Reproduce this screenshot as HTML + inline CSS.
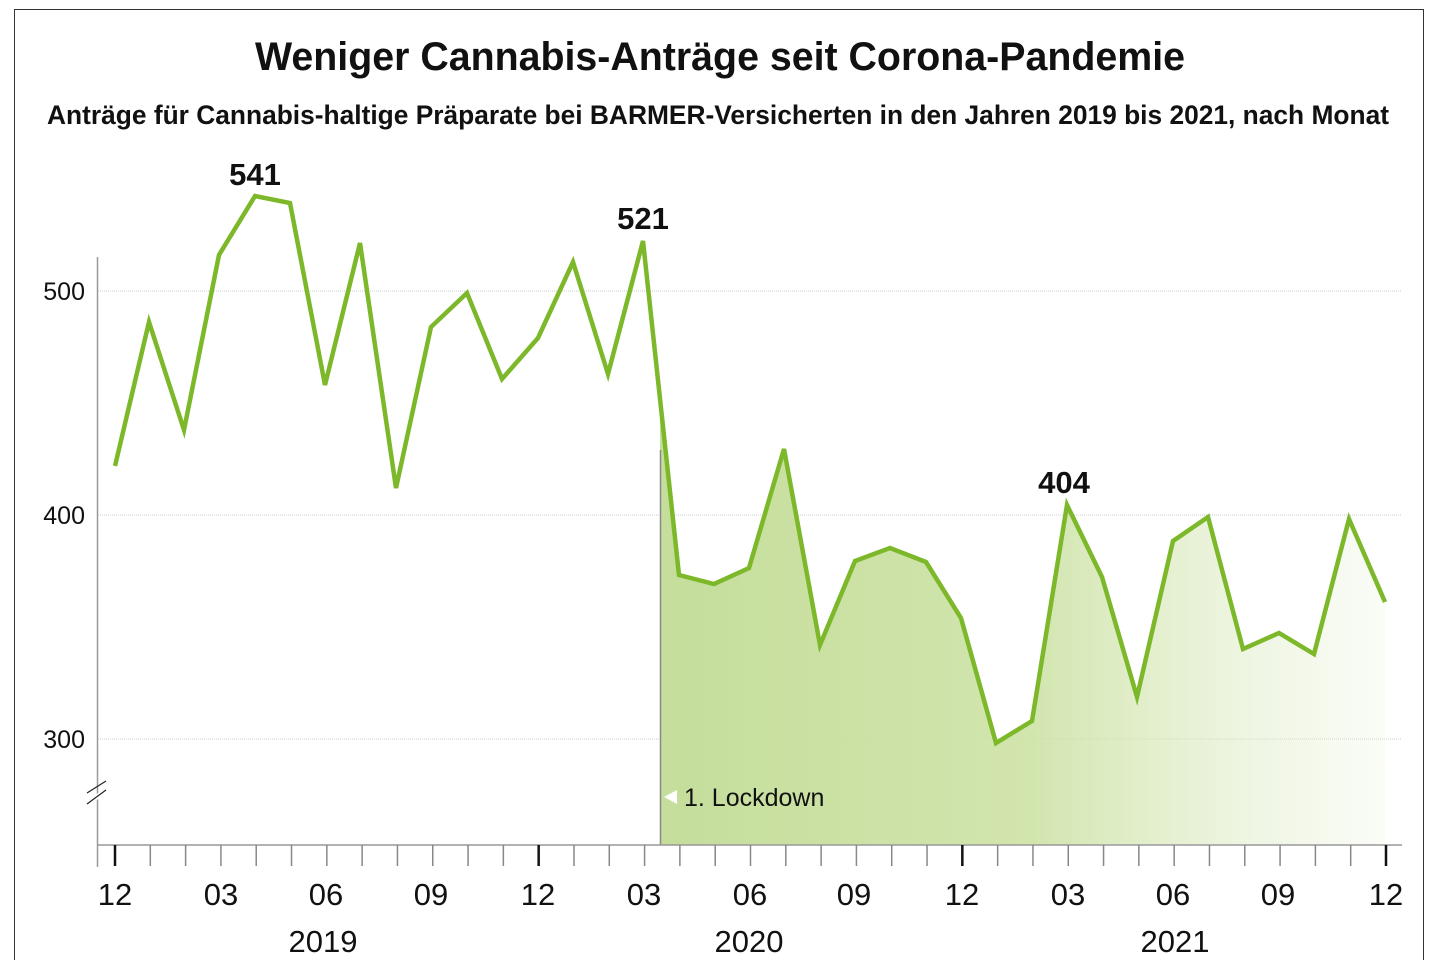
<!DOCTYPE html>
<html><head><meta charset="utf-8"><style>
body{margin:0;background:#fff;width:1440px;height:960px;overflow:hidden}
svg{display:block}
text{font-family:"Liberation Sans","DejaVu Sans",sans-serif}
</style></head><body>
<svg width="1440" height="960" viewBox="0 0 1440 960">
<defs>
<linearGradient id="g" x1="660" y1="0" x2="1400" y2="0" gradientUnits="userSpaceOnUse">
<stop offset="0" stop-color="#c2dc96" stop-opacity="0.95"/>
<stop offset="0.5" stop-color="#cce2a4" stop-opacity="0.9"/>
<stop offset="1" stop-color="#e4efd0" stop-opacity="0.15"/>
</linearGradient>
</defs>
<rect x="14.5" y="9.5" width="1409" height="960" fill="none" stroke="#333" stroke-width="1"/>
<text x="720" y="70" text-anchor="middle" font-size="40" font-weight="bold" fill="#111" textLength="930" lengthAdjust="spacingAndGlyphs">Weniger Cannabis-Anträge seit Corona-Pandemie</text>
<text x="718" y="124" text-anchor="middle" font-size="27" font-weight="bold" fill="#111" textLength="1342" lengthAdjust="spacingAndGlyphs">Anträge für Cannabis-haltige Präparate bei BARMER-Versicherten in den Jahren 2019 bis 2021, nach Monat</text>
<g stroke="#ccc" stroke-width="1" stroke-dasharray="1,1">
<line x1="98" y1="291" x2="1402" y2="291"/><line x1="98" y1="515" x2="1402" y2="515"/><line x1="98" y1="739" x2="1402" y2="739"/>
</g>
<g font-size="25" fill="#111" text-anchor="end">
<text x="85" y="300">500</text><text x="85" y="524">400</text><text x="85" y="748">300</text>
</g>
<polygon fill="url(#g)" points="660,399 679,575 714,584 749,568 784,449 820,645 855,561 890,548 926,562 961,618 996,743 1032,721 1067,505 1102,577 1137,697 1173,541 1208,517 1243,649 1279,633 1314,654 1349,519 1385,602 1385,845 660,845"/>
<line x1="660.5" y1="450" x2="660.5" y2="845" stroke="#888" stroke-width="1.5"/>
<polygon points="664,797 677,790 677,804" fill="#fff"/>
<text x="684" y="806" font-size="25" fill="#111">1. Lockdown</text>
<line x1="97.5" y1="257" x2="97.5" y2="867" stroke="#999" stroke-width="1.5"/>
<line x1="87" y1="793" x2="106" y2="781" stroke="#222" stroke-width="1.2"/>
<line x1="87" y1="803" x2="106" y2="791" stroke="#fff" stroke-width="5"/>
<line x1="87" y1="804" x2="106" y2="790" stroke="#222" stroke-width="1.2"/>
<line x1="97" y1="845" x2="1402" y2="845" stroke="#999" stroke-width="1.5"/>
<g stroke="#888" stroke-width="1.5" id="ticks"></g>
<polyline fill="none" stroke="#7cb82a" stroke-width="4.5" stroke-linejoin="miter" points="115,466 149,322 184,430 219,255 255,196 290,203 325,385 360,243 396,488 431,327 467,293 502,379 538,338 573,262 608,374 643,241 679,575 714,584 749,568 784,449 820,645 855,561 890,548 926,562 961,618 996,743 1032,721 1067,505 1102,577 1137,697 1173,541 1208,517 1243,649 1279,633 1314,654 1349,519 1385,602"/>
<g font-size="31" font-weight="bold" fill="#111" text-anchor="middle">
<text x="255" y="185">541</text><text x="643" y="229">521</text><text x="1064" y="493">404</text>
</g>
<g font-size="31" fill="#111" text-anchor="middle">
<text x="115" y="905">12</text><text x="221" y="905">03</text><text x="326" y="905">06</text><text x="431" y="905">09</text>
<text x="538" y="905">12</text><text x="644" y="905">03</text><text x="750" y="905">06</text><text x="854" y="905">09</text>
<text x="962" y="905">12</text><text x="1068" y="905">03</text><text x="1173" y="905">06</text><text x="1278" y="905">09</text><text x="1386" y="905">12</text>
<text x="323" y="952">2019</text><text x="749" y="952">2020</text><text x="1175" y="952">2021</text>
</g>
<script>
var g=document.getElementById('ticks');
for(var i=0;i<=36;i++){var x=115+i*(1386-115)/36;var l=document.createElementNS('http://www.w3.org/2000/svg','line');
l.setAttribute('x1',x);l.setAttribute('x2',x);l.setAttribute('y1',845);l.setAttribute('y2',866);
if(i%12==0){l.setAttribute('stroke','#111');l.setAttribute('stroke-width','2.5');}
g.appendChild(l);}
</script>
</svg>
</body></html>
